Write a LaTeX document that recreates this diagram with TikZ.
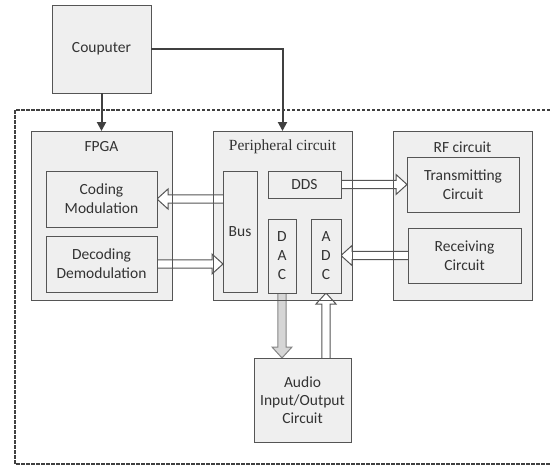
\documentclass[tikz,border=0pt]{standalone}
\usepackage{fontspec}
\setmainfont{Carlito}
\newfontfamily\timesf{Liberation Serif}
\usetikzlibrary{calc,arrows.meta}
\definecolor{boxfill}{HTML}{EFEFEF}
\definecolor{boxline}{HTML}{555555}
\definecolor{txt}{HTML}{333333}
\definecolor{darkline}{HTML}{404040}
\definecolor{dacfill}{HTML}{D6D6D6}
\definecolor{dacline}{HTML}{858585}
\def\hw{4.2pt}\def\hh{10pt}\def\hl{11pt}
\tikzset{
  box/.style={draw=boxline, fill=boxfill, line width=1pt, inner sep=0pt, outer sep=0pt, text=txt, align=center, font=\fontsize{15.5}{19}\selectfont},
  outerfill/.style={fill=boxfill, draw=none, inner sep=0pt, outer sep=0pt},
  title/.style={text=txt, inner sep=0pt, font=\fontsize{15.5}{19}\selectfont},
  solidarrow/.style={draw=darkline, line width=2pt, -{Triangle[length=9pt,width=9pt]}},
  hollow/.style={line width=1pt, to path={($(\tikztostart)!\hw!90:(\tikztotarget)$) -- ($(\tikztotarget)!\hl!(\tikztostart)!\hw!-90:(\tikztostart)$) -- ($(\tikztotarget)!\hl!(\tikztostart)!\hh!-90:(\tikztostart)$) -- (\tikztotarget) -- ($(\tikztotarget)!\hl!(\tikztostart)!\hh!90:(\tikztostart)$) -- ($(\tikztotarget)!\hl!(\tikztostart)!\hw!90:(\tikztostart)$) -- ($(\tikztostart)!\hw!-90:(\tikztotarget)$)}},
  hwhite/.style={hollow, draw=boxline, fill=white},
  hgray/.style={hollow, draw=dacline, fill=dacfill},
  dashborder/.style={draw=darkline, line width=2pt, dash pattern=on 3.5pt off 1.5pt}
}
\begin{document}
\begin{tikzpicture}[x=1pt,y=-1pt]
\useasboundingbox (0,0) rectangle (550,466);
% dashed border
\coordinate (dtr) at (550,110);
\coordinate (dtl) at (15,110);
\coordinate (dbl) at (15,464);
\coordinate (dbr) at (550,464);
\draw[dashborder] (dtr) -- (dtl) -- (dbl) -- (dbr);

% computer
\node[box, minimum width=99pt, minimum height=88pt] (comp) at (101.5,49) {Couputer};

% outer boxes (fill only first)
\node[outerfill, minimum width=141pt, minimum height=169pt] (fpga) at (101.5,215.5) {};
\node[outerfill, minimum width=139pt, minimum height=169pt] (periph) at (282.5,215.5) {};
\node[outerfill, minimum width=139pt, minimum height=169pt] (rf) at (462.5,215.5) {};

% computer arrows
\draw[solidarrow] (comp.south) -- (fpga.north);
\draw[solidarrow] (comp.east) -| (periph.north);

% inner box centres
\path (101.5,199) coordinate (codc) (101.5,264) coordinate (decc)
      (240,231.5) coordinate (busc) (304.5,184.5) coordinate (ddsc)
      (282,256) coordinate (dacc) (326,256) coordinate (adcc)
      (463,184.5) coordinate (transc) (464.5,255.5) coordinate (recc)
      (302.5,400) coordinate (audc);
% arrow end points
\coordinate (codE) at ([xshift=55.5pt]codc);
\coordinate (busW1) at ([xshift=-17pt]busc |- codc);
\coordinate (decE) at ([xshift=55.5pt]decc);
\coordinate (busW2) at ([xshift=-17pt]busc |- decc);
\coordinate (ddsE) at ([xshift=36.5pt]ddsc);
\coordinate (transW) at ([xshift=-56pt]transc);
\coordinate (recW) at ([xshift=-56.5pt]recc);
\coordinate (adcE) at ([xshift=15pt]adcc |- recc);
\coordinate (dacS) at ([yshift=-37pt]dacc);
\coordinate (audN1) at (dacS |- 0,358);
\coordinate (adcS) at ([yshift=-37pt]adcc);
\coordinate (audN2) at (adcS |- 0,358);

% hollow arrows
\draw[hwhite] (busW1) to (codE);
\draw[hwhite] (decE) to (busW2);
\draw[hwhite] (ddsE) to (transW);
\draw[hwhite] (recW) to (adcE);
\draw[hgray] (dacS) to (audN1);
\draw[hwhite] (audN2) to (adcS);

% outer box borders and titles
\draw[boxline, line width=1pt] (fpga.north west) rectangle (fpga.south east);
\draw[boxline, line width=1pt] (periph.north west) rectangle (periph.south east);
\draw[boxline, line width=1pt] (rf.north west) rectangle (rf.south east);
\node[title] (fpgat) at ([yshift=-16pt]fpga.north) {FPGA};
\node[title, font=\timesf\fontsize{15.5}{19}\selectfont] (periapht) at ([yshift=-16pt]periph.north) {Peripheral circuit};
\node[title] (rft) at ([yshift=-16pt]rf.north) {RF circuit};

% inner boxes
\node[box, minimum width=111pt, minimum height=56pt] (coding) at (codc) {Coding\\Modulation};
\node[box, minimum width=111pt, minimum height=56pt] (decoding) at (decc) {Decoding\\Demodulation};
\node[box, minimum width=34pt, minimum height=121pt] (bus) at (busc) {Bus};
\node[box, minimum width=73pt, minimum height=27pt] (dds) at (ddsc) {DDS};
\node[box, minimum width=28pt, minimum height=74pt] (dac) at (dacc) {D\\A\\C};
\node[box, minimum width=30pt, minimum height=74pt] (adc) at (adcc) {A\\D\\C};
\node[box, minimum width=112pt, minimum height=55pt] (trans) at (transc) {Transmitting\\Circuit};
\node[box, minimum width=113pt, minimum height=55pt] (rec) at (recc) {Receiving\\Circuit};
\node[box, minimum width=97pt, minimum height=84pt, font=\fontsize{15.5}{18}\selectfont] (audio) at (audc) {Audio\\Input/Output\\Circuit};
\end{tikzpicture}
\end{document}
